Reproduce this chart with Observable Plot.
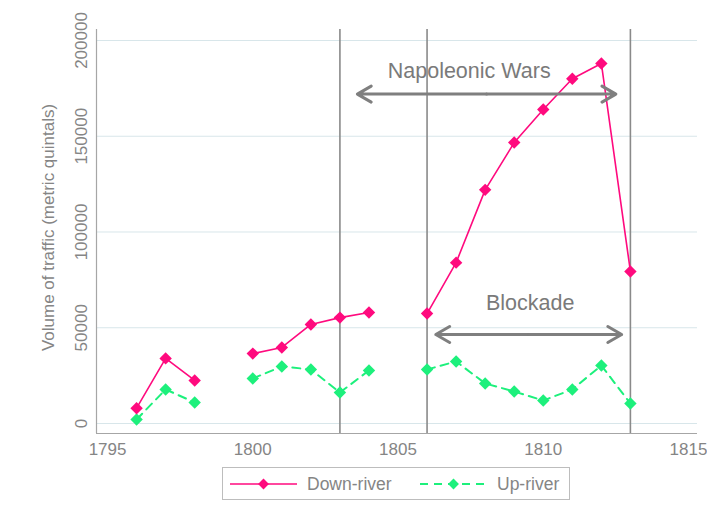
<!DOCTYPE html>
<html>
<head>
<meta charset="utf-8">
<script src="https://cdn.jsdelivr.net/npm/d3@7"></script>
<script src="https://cdn.jsdelivr.net/npm/@observablehq/plot@0.6"></script>
<style>
  html, body { margin: 0; padding: 0; background: #fff; }
  body { width: 707px; height: 519px; overflow: hidden; font-family: "Liberation Sans", Arial, sans-serif; }
  #legend { margin-left: 222px; margin-top: 7px; }
</style>
</head>
<body>
<div id="chart"></div>
<div id="legend"></div>
<script>
// ---- data ----
const years = [1796, 1797, 1798, 1799, 1800, 1801, 1802, 1803, 1804, 1805, 1806, 1807, 1808, 1809, 1810, 1811, 1812, 1813];
const downRiver = [8000, 34000, 22500, null, 36500, 39700, 51700, 55300, 58000, null, 57400, 84000, 122000, 146700, 164000, 180000, 188000, 79400];
const upRiver = [2100, 17800, 11000, null, 23500, 29800, 28200, 16200, 27700, null, 28200, 32400, 20900, 16700, 12000, 17800, 30300, 10400];
const seriesNames = ["Down-river", "Up-river"];
const xTicks = [1795, 1800, 1805, 1810, 1815];
const yTicks = [0, 50000, 100000, 150000, 200000];
const eventYears = [1803, 1806, 1813];
const annotLabels = ["Napoleonic Wars", "Blockade"];
const annotStart = [1803.6, 1806.3];
const annotEnd = [1812.5, 1812.7];
const annotArrowY = [172000, 46500];
const annotTextX = [1807.45, 1809.55];
const annotTextY = [183800, 62700];
const yTitle = "Volume of traffic (metric quintals)";

// ---- styles ----
const pink = "#ff0a7e";
const green = "#1df07c";
const textGray = "#858585";
const xDomain = [1794.62, 1815.31];
const yDomain = [-5222, 205744];

const rows = years.map((y, i) => ({year: y, down: downRiver[i], up: upRiver[i]}));
const arrows = [];
annotLabels.forEach((l, i) => {
  const mid = (annotStart[i] + annotEnd[i]) / 2;
  arrows.push({x1: mid, x2: annotStart[i], y: annotArrowY[i]});
  arrows.push({x1: mid, x2: annotEnd[i], y: annotArrowY[i]});
});
const texts = annotLabels.map((l, i) => ({label: l, x: annotTextX[i], y: annotTextY[i]}));

const chart = Plot.plot({
  width: 707,
  height: 460,
  marginLeft: 96,
  marginRight: 10,
  marginTop: 29,
  marginBottom: 27,
  style: {fontFamily: "Liberation Sans, Arial, sans-serif", background: "#fff"},
  x: {domain: xDomain, ticks: xTicks, tickFormat: d => String(d)},
  y: {domain: yDomain},
  marks: [
    Plot.gridY(yTicks, {stroke: "#d8e6ea", strokeOpacity: 1, strokeWidth: 1}),
    Plot.ruleX([xDomain[0]], {stroke: "#a6a6a6", strokeWidth: 1.2}),
    Plot.ruleY([yDomain[0]], {stroke: "#a6a6a6", strokeWidth: 1.2}),
    Plot.axisX(xTicks, {tickSize: 0, tickPadding: 9, fontSize: 17, fill: textGray, label: null, tickFormat: d => String(d), style: "letter-spacing:0.3px"}),
    Plot.axisY({ticks: [], label: null, tickSize: 0}),
    Plot.text(yTicks, {y: d => d, text: d => String(d), frameAnchor: "left", dx: -15, rotate: -90, fontSize: 17, fill: textGray, textAnchor: "middle", style: "letter-spacing:0.3px"}),
    Plot.text([yTitle], {text: d => d, frameAnchor: "left", dx: -48, dy: -4, rotate: -90, fontSize: 17, fill: textGray, textAnchor: "middle", style: "letter-spacing:0.3px"}),
    Plot.ruleX(eventYears, {stroke: "#8a8a8a", strokeWidth: 1.6}),
    Plot.line(rows, {x: "year", y: "up", stroke: green, strokeWidth: 2, strokeDasharray: "8,6"}),
    Plot.dot(rows, {x: "year", y: "up", fill: green, symbol: "diamond2", r: 5.6, stroke: "none"}),
    Plot.line(rows, {x: "year", y: "down", stroke: pink, strokeWidth: 1.6}),
    Plot.dot(rows, {x: "year", y: "down", fill: pink, symbol: "diamond2", r: 5.6, stroke: "none"}),
    Plot.arrow(arrows, {x1: "x1", x2: "x2", y1: "y", y2: "y", stroke: "#7f7f7f", strokeWidth: 3, headLength: 8, headAngle: 60}),
    Plot.text(texts, {x: "x", y: "y", text: "label", fontSize: 21.5, fill: "#7a7a7a", style: "letter-spacing:1px"})
  ]
});
document.getElementById("chart").appendChild(chart);

// ---- legend ----
const lw = 347, lh = 32;
const svg = d3.create("svg").attr("width", lw + 2).attr("height", lh + 2);
svg.append("rect").attr("x", 0.5).attr("y", 0.5).attr("width", lw).attr("height", lh)
  .attr("fill", "#fff").attr("stroke", "#bdbdbd");
const items = [
  {name: seriesNames[0], color: pink, dash: null, x: 8, tx: 85},
  {name: seriesNames[1], color: green, dash: "8,6", x: 198, tx: 275}
];
for (const it of items) {
  const g = svg.append("g");
  g.append("line").attr("x1", it.x).attr("x2", it.x + 67).attr("y1", 17).attr("y2", 17)
    .attr("stroke", it.color).attr("stroke-width", it.dash ? 2 : 1.6).attr("stroke-dasharray", it.dash);
  g.append("path").attr("d", d3.symbol(d3.symbolDiamond2, 75)()).attr("transform", `translate(${it.x + 33.5},17)`).attr("fill", it.color);
  g.append("text").attr("x", it.tx).attr("y", 17).attr("dy", "0.35em")
    .attr("font-size", 17.5).attr("fill", textGray).attr("font-family", "Liberation Sans, Arial, sans-serif").text(it.name);
}
document.getElementById("legend").appendChild(svg.node());
</script>
</body>
</html>
